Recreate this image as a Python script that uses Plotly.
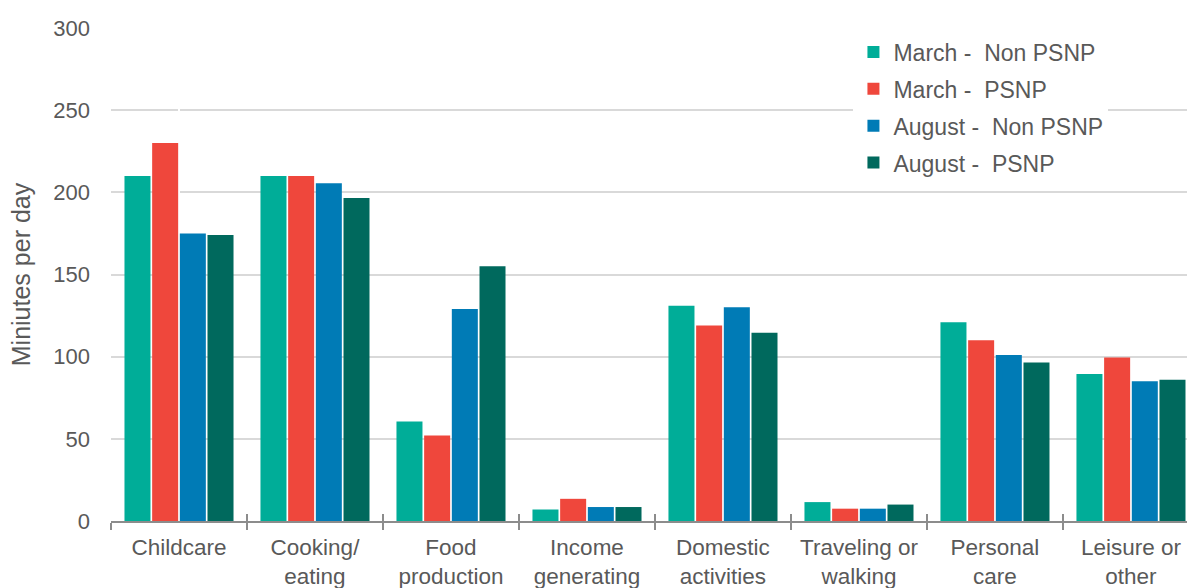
import plotly.graph_objects as go

categories = ["Childcare", "Cooking/<br>eating", "Food<br>production", "Income<br>generating",
              "Domestic<br>activities", "Traveling or<br>walking", "Personal<br>care", "Leisure or<br>other"]
series_names = ["March -  Non PSNP", "March -  PSNP", "August -  Non PSNP", "August -  PSNP"]
march_non_psnp = [210, 210, 60.5, 7, 131, 11.5, 121, 89.5]
march_psnp = [230, 210, 52, 13.5, 119, 7.5, 110, 99.5]
august_non_psnp = [175, 205.5, 129, 8.5, 130, 7.5, 101, 85]
august_psnp = [174, 196.5, 155, 8.5, 114.5, 10, 96.5, 86]
colors = ["#00ad98", "#ef473c", "#007bb6", "#00695d"]
y_ticks = [0, 50, 100, 150, 200, 250, 300]

FONT = "Liberation Sans, Arial, sans-serif"
GREY = "#595959"

fig = go.Figure()
for name, vals, col in zip(series_names, [march_non_psnp, march_psnp, august_non_psnp, august_psnp], colors):
    fig.add_trace(go.Bar(x=categories, y=vals, name=name, marker_color=col,
                         legendgroup=name, marker_line_width=0))

n = len(categories)
xr = [-0.5, n - 0.5 - 0.088]

fig.update_layout(
    width=1187, height=588,
    margin=dict(l=111, r=0, t=28, b=67),
    paper_bgcolor="white", plot_bgcolor="white",
    barmode="group", bargap=0.186, bargroupgap=0.06,
    font=dict(family=FONT, size=22, color=GREY),
    legend=dict(x=0.69, y=0.995, xanchor="left", yanchor="top",
                bgcolor="white", font=dict(size=23, color=GREY),
                tracegroupgap=4, itemwidth=30),
    xaxis=dict(range=xr, tickson="boundaries", ticks="outside", ticklen=7,
               tickcolor="#8c8c8c", tickwidth=1.5, showline=True, linecolor="#8c8c8c",
               linewidth=1.5, showgrid=False, tickfont=dict(size=22.5, color=GREY),
               ticklabelstandoff=5),
    xaxis2=dict(overlaying="x", anchor="y", range=xr, tickmode="array",
                tickvals=[i - 0.5 for i in range(n)], ticks="inside", ticklen=7,
                tickcolor="#8c8c8c", tickwidth=1.5, showticklabels=False,
                showgrid=False, showline=False, side="bottom"),
    yaxis=dict(range=[0, 300], tickvals=y_ticks, showgrid=True, gridcolor="#d9d9d9",
               gridwidth=1.5, zeroline=False, showline=False, ticks="",
               tickfont=dict(size=22, color=GREY), ticklabelstandoff=20,
               title=dict(text="Miniutes per day", font=dict(size=25, color=GREY), standoff=15)),
)
# invisible trace to activate xaxis2
fig.add_trace(go.Scatter(x=[0], y=[0], xaxis="x2", mode="markers", marker_opacity=0,
                         showlegend=False, hoverinfo="skip"))

fig.write_html("out.html")
